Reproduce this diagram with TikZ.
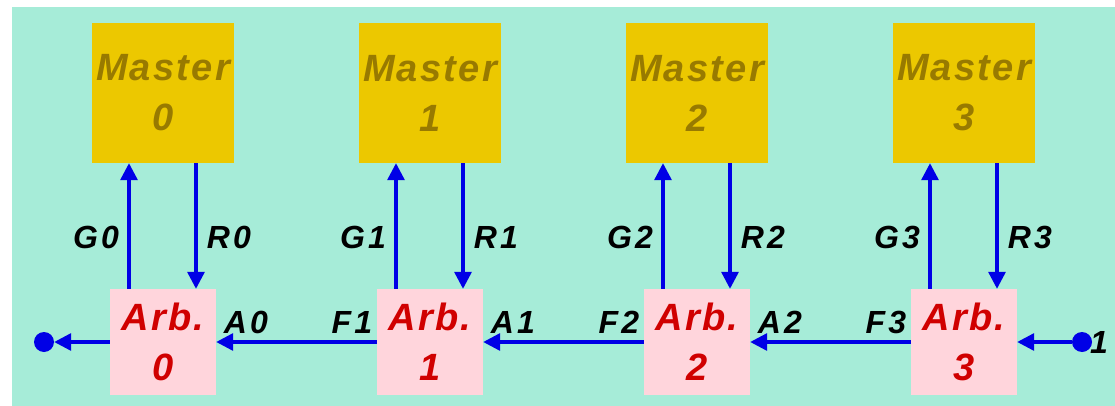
\documentclass[tikz,border=0pt]{standalone}
\usepackage{fontspec}
\setmainfont{Liberation Sans}
\newfontfamily\boxfont[LetterSpace=6]{Liberation Sans}
\newfontfamily\labfont[LetterSpace=10]{Liberation Sans}
\usetikzlibrary{arrows.meta}
\definecolor{bgteal}{RGB}{166,236,216}
\definecolor{mfill}{RGB}{236,200,0}
\definecolor{mtext}{RGB}{152,122,0}
\definecolor{afill}{RGB}{255,213,220}
\definecolor{atext}{RGB}{208,0,0}
\definecolor{wire}{RGB}{0,0,230}
\tikzset{
  master/.style={rectangle, fill=mfill, minimum width=142pt, minimum height=140pt, inner sep=0pt,
    align=center, text=mtext, font=\boxfont\fontsize{38}{50}\selectfont\bfseries\itshape},
  arb/.style={rectangle, fill=afill, minimum width=106pt, minimum height=106pt, inner sep=0pt,
    align=center, text=atext, font=\boxfont\fontsize{38}{50}\selectfont\bfseries\itshape},
  lab/.style={inner sep=0pt, text=black, font=\labfont\fontsize{32}{34}\selectfont\bfseries\itshape},
  wirearrow/.style={draw=wire, line width=3.2pt, -{Triangle[length=17pt,width=17pt]}},
  enddot/.style={circle, fill=wire, minimum size=20pt, inner sep=0pt},
}
\begin{document}
\begin{tikzpicture}[x=1pt,y=-1pt]
\useasboundingbox (0,0) rectangle (1115,406);
\fill[bgteal] (12,7) rectangle (1115,406);
\foreach \i in {0,1,2,3}{
  \pgfmathsetmacro{\cx}{163+267*\i}
  \node[master] (m\i) at (\cx,93) {Master\\\i};
  \node[arb] (a\i) at (\cx,342) {Arb.\\\i};
  \draw[wirearrow] ([xshift=-34pt]a\i.north) -- ([xshift=-34pt]m\i.south);
  \draw[wirearrow] ([xshift=33pt]m\i.south) -- ([xshift=33pt]a\i.north);
  \node[lab] (g\i) at (\cx-67,237) {G\i};
  \node[lab] (r\i) at (\cx+66,237) {R\i};
}
\foreach \i in {0,1,2}{
  \pgfmathsetmacro{\cx}{163+267*\i}
  \node[lab] (al\i) at (\cx+83,322) {A\i};
}
\foreach \i in {1,2,3}{
  \pgfmathsetmacro{\cx}{163+267*\i}
  \node[lab] (fl\i) at (\cx-78,322) {F\i};
}
\draw[wirearrow] (a1.west) -- (a0.east);
\draw[wirearrow] (a2.west) -- (a1.east);
\draw[wirearrow] (a3.west) -- (a2.east);
\node[enddot] (ld) at (44,342) {};
\node[enddot] (rd) at (1082,342) {};
\draw[wirearrow] (a0.west) -- (ld);
\draw[wirearrow] (rd) -- (a3.east);
\node[lab] (one) at (1099,342) {1};
\end{tikzpicture}
\end{document}
